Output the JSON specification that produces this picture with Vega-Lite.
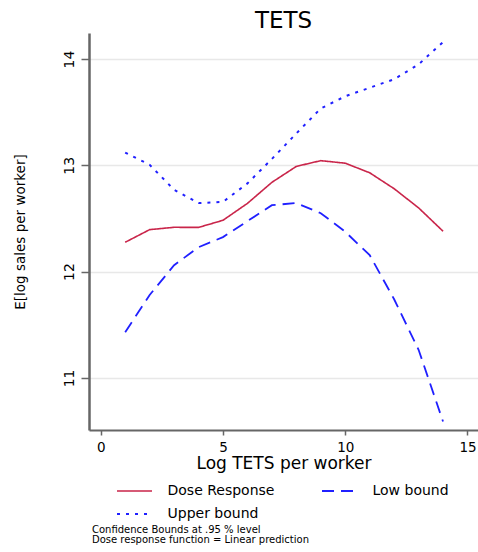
{
  "$schema": "https://vega.github.io/schema/vega-lite/v6.json",
  "width": 389,
  "height": 397,
  "autosize": {"type": "none"},
  "padding": {"left": 89, "top": 33, "right": 0, "bottom": 122},
  "background": "white",
  "config": {"font": "DejaVu Sans", "view": {"stroke": null}},
  "title": {"text": "TETS", "fontSize": 23, "fontWeight": "normal", "color": "#000", "offset": 0, "anchor": "middle"},
  "data": {
    "values": [
      {"x": 1, "value": 12.276, "series": "Dose Response"},
      {"x": 2, "value": 12.395, "series": "Dose Response"},
      {"x": 3, "value": 12.417, "series": "Dose Response"},
      {"x": 4, "value": 12.416, "series": "Dose Response"},
      {"x": 5, "value": 12.483, "series": "Dose Response"},
      {"x": 6, "value": 12.642, "series": "Dose Response"},
      {"x": 7, "value": 12.84, "series": "Dose Response"},
      {"x": 8, "value": 12.99, "series": "Dose Response"},
      {"x": 9, "value": 13.044, "series": "Dose Response"},
      {"x": 10, "value": 13.02, "series": "Dose Response"},
      {"x": 11, "value": 12.93, "series": "Dose Response"},
      {"x": 12, "value": 12.78, "series": "Dose Response"},
      {"x": 13, "value": 12.6, "series": "Dose Response"},
      {"x": 14, "value": 12.38, "series": "Dose Response"},
      {"x": 1, "value": 11.43, "series": "Low bound"},
      {"x": 2, "value": 11.78, "series": "Low bound"},
      {"x": 3, "value": 12.06, "series": "Low bound"},
      {"x": 4, "value": 12.23, "series": "Low bound"},
      {"x": 5, "value": 12.325, "series": "Low bound"},
      {"x": 6, "value": 12.475, "series": "Low bound"},
      {"x": 7, "value": 12.625, "series": "Low bound"},
      {"x": 8, "value": 12.645, "series": "Low bound"},
      {"x": 9, "value": 12.55, "series": "Low bound"},
      {"x": 10, "value": 12.375, "series": "Low bound"},
      {"x": 11, "value": 12.155, "series": "Low bound"},
      {"x": 12, "value": 11.74, "series": "Low bound"},
      {"x": 13, "value": 11.265, "series": "Low bound"},
      {"x": 14, "value": 10.59, "series": "Low bound"},
      {"x": 1, "value": 13.12, "series": "Upper bound"},
      {"x": 2, "value": 13.005, "series": "Upper bound"},
      {"x": 3, "value": 12.77, "series": "Upper bound"},
      {"x": 4, "value": 12.645, "series": "Upper bound"},
      {"x": 5, "value": 12.656, "series": "Upper bound"},
      {"x": 6, "value": 12.83, "series": "Upper bound"},
      {"x": 7, "value": 13.06, "series": "Upper bound"},
      {"x": 8, "value": 13.3, "series": "Upper bound"},
      {"x": 9, "value": 13.535, "series": "Upper bound"},
      {"x": 10, "value": 13.65, "series": "Upper bound"},
      {"x": 11, "value": 13.73, "series": "Upper bound"},
      {"x": 12, "value": 13.81, "series": "Upper bound"},
      {"x": 13, "value": 13.95, "series": "Upper bound"},
      {"x": 14, "value": 14.16, "series": "Upper bound"}
    ]
  },
  "mark": {"type": "line", "clip": false},
  "encoding": {
    "x": {
      "field": "x", "type": "quantitative",
      "scale": {"domain": [-0.48, 15.43], "nice": false, "zero": false},
      "axis": {
        "values": [0, 5, 10, 15], "title": "Log TETS per worker", "grid": false,
        "domainColor": "#666", "domainWidth": 2, "tickColor": "#666", "tickSize": 5, "tickWidth": 1.5,
        "labelFontSize": 13.5, "labelColor": "#000", "labelPadding": 5, "labelFlush": false,
        "titleFontSize": 17, "titleFontWeight": "normal", "titleColor": "#000", "titlePadding": 2
      }
    },
    "y": {
      "field": "value", "type": "quantitative",
      "scale": {"domain": [10.51, 14.245], "nice": false, "zero": false},
      "axis": {
        "values": [11, 12, 13, 14], "title": "E[log sales per worker]", "grid": true,
        "gridColor": "#e8e8e8", "gridWidth": 1.5,
        "domainColor": "#666", "domainWidth": 2.5, "tickColor": "#666", "tickSize": 8, "tickWidth": 1.5,
        "labelAngle": -90, "labelAlign": "center", "labelBaseline": "bottom",
        "labelFontSize": 14, "labelColor": "#000", "labelPadding": 5,
        "titleFontSize": 13.5, "titleFontWeight": "normal", "titleColor": "#000", "titlePadding": 35
      }
    },
    "color": {
      "field": "series", "type": "nominal",
      "scale": {"domain": ["Dose Response", "Low bound", "Upper bound"], "range": ["#c9254a", "#2020ff", "#2020ff"]},
      "legend": {
        "orient": "none", "legendX": 3, "legendY": 450, "columns": 2, "direction": "horizontal",
        "title": ["Confidence Bounds at .95 % level", "Dose response function = Linear prediction"],
        "titleOrient": "bottom", "titleAnchor": "start", "titleFontSize": 10, "titleFontWeight": "normal",
        "titleLimit": 400, "titleLineHeight": 10, "titlePadding": 4, "titleColor": "#000",
        "symbolType": "M-2.5,0L2.5,0", "symbolSize": 196, "symbolStrokeWidth": 1.8, "symbolOffset": 34.5,
        "labelOffset": 25, "labelFontSize": 14, "labelColor": "#000", "labelLimit": 200,
        "columnPadding": 22, "rowPadding": 8, "padding": 0
      }
    },
    "strokeDash": {
      "field": "series", "type": "nominal",
      "scale": {"domain": ["Dose Response", "Low bound", "Upper bound"], "range": [[1, 0], [12, 7], [3, 6]]},
      "legend": {
        "orient": "none", "legendX": 3, "legendY": 450, "columns": 2, "direction": "horizontal",
        "title": ["Confidence Bounds at .95 % level", "Dose response function = Linear prediction"],
        "titleOrient": "bottom", "titleAnchor": "start", "titleFontSize": 10, "titleFontWeight": "normal",
        "titleLimit": 400, "titleLineHeight": 10, "titlePadding": 4, "titleColor": "#000",
        "symbolType": "M-2.5,0L2.5,0", "symbolSize": 196, "symbolStrokeWidth": 1.8, "symbolOffset": 34.5,
        "labelOffset": 25, "labelFontSize": 14, "labelColor": "#000", "labelLimit": 200,
        "columnPadding": 22, "rowPadding": 8, "padding": 0
      }
    },
    "strokeWidth": {
      "field": "series", "type": "nominal",
      "scale": {"domain": ["Dose Response", "Low bound", "Upper bound"], "range": [1.6, 2, 2]},
      "legend": null
    }
  }
}
